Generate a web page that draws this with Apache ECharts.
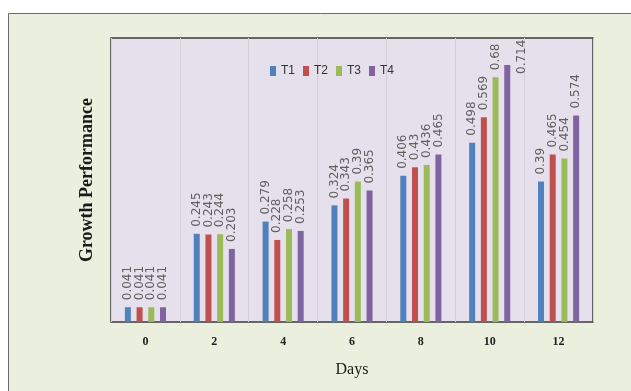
<!DOCTYPE html>
<html>
<head>
<meta charset="utf-8">
<script src="https://cdn.jsdelivr.net/npm/echarts@6/dist/echarts.min.js"></script>
<style>
  html, body { margin: 0; padding: 0; background: #ffffff; }
  #chart { width: 631px; height: 391px; }
</style>
</head>
<body>
<div id="chart"></div>
<script>
// Growth performance of four treatments over days
const days = ['0', '2', '4', '6', '8', '10', '12'];
const seriesNames = ['T1', 'T2', 'T3', 'T4'];
const t1 = [0.041, 0.245, 0.279, 0.324, 0.406, 0.498, 0.39];
const t2 = [0.041, 0.243, 0.228, 0.343, 0.43, 0.569, 0.465];
const t3 = [0.041, 0.244, 0.258, 0.39, 0.436, 0.68, 0.454];
const t4 = [0.041, 0.203, 0.253, 0.365, 0.465, 0.714, 0.574];
const colors = ['#4F81BD', '#C0504D', '#9BBB59', '#8064A2'];

const chart = echarts.init(document.getElementById('chart'), null, { renderer: 'canvas' });

const valueLabel = {
  show: true,
  position: 'top',
  rotate: 90,
  align: 'left',
  verticalAlign: 'middle',
  distance: 7,
  fontFamily: 'DejaVu Sans',
  fontSize: 12,
  color: '#606060',
  formatter: p => String(p.value)
};

// the tallest bar's label sits beside it so it stays inside the plot
function withSideLabel(values, idx) {
  return values.map((v, i) => i === idx
    ? { value: v, label: { position: [18, 9] } }
    : v);
}

const allData = [t1, t2, t3, withSideLabel(t4, 5)];

chart.setOption({
  animation: false,
  backgroundColor: '#ffffff',
  graphic: [{
    type: 'rect',
    z: -10,
    silent: true,
    shape: { x: 8.5, y: 13.5, width: 640, height: 400 },
    style: { fill: '#EBF0DE', stroke: '#6b6b6b', lineWidth: 1 }
  }],
  grid: {
    left: 111, top: 38, right: 38, bottom: 69,
    show: true,
    backgroundColor: '#E5E0EC',
    borderColor: '#3a3a3a',
    borderWidth: 1.5
  },
  legend: {
    data: seriesNames,
    left: 265,
    top: 60,
    itemWidth: 6,
    itemHeight: 10,
    itemGap: 8,
    icon: 'rect',
    textStyle: { fontFamily: 'Liberation Sans', fontSize: 12, color: '#333333' }
  },
  xAxis: {
    type: 'category',
    data: days,
    name: 'Days',
    nameLocation: 'middle',
    nameGap: 40,
    nameTextStyle: { fontFamily: 'Liberation Serif', fontSize: 16, color: '#1a1a1a' },
    axisLine: { show: false },
    axisTick: { show: false },
    axisLabel: { fontFamily: 'Liberation Serif', fontWeight: 'bold', fontSize: 12, color: '#222222', margin: 14 },
    splitLine: { show: true, lineStyle: { color: '#D4D0D8', width: 1 } }
  },
  yAxis: {
    type: 'value',
    min: 0,
    max: 0.789,
    name: 'Growth Performance',
    nameLocation: 'middle',
    nameGap: 15,
    nameTextStyle: { fontFamily: 'Liberation Serif', fontWeight: 'bold', fontSize: 18, color: '#1a1a1a' },
    axisLine: { show: false },
    axisTick: { show: false },
    axisLabel: { show: false },
    splitLine: { show: false }
  },
  series: seriesNames.map((name, i) => ({
    name,
    type: 'bar',
    data: allData[i],
    barWidth: 6,
    barGap: '95%',
    itemStyle: { color: colors[i] },
    label: valueLabel
  }))
});
</script>
</body>
</html>
